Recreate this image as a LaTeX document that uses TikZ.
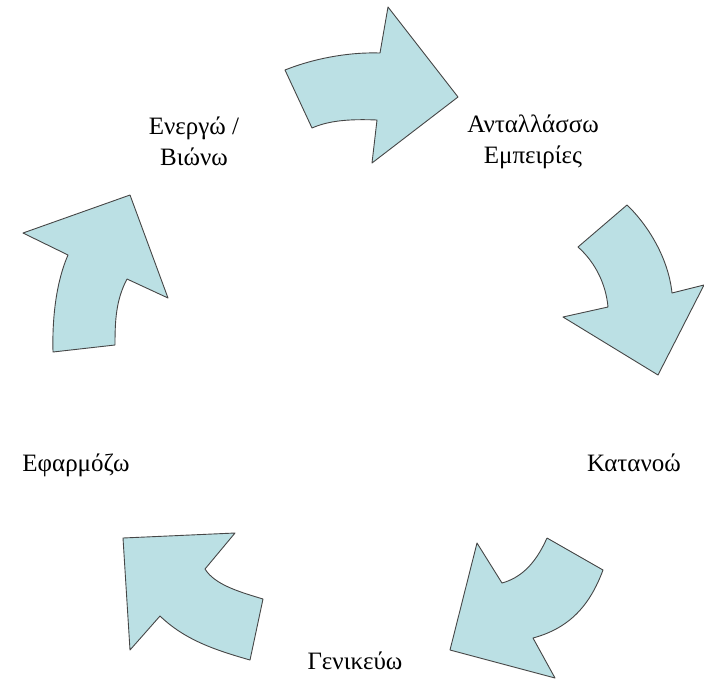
\documentclass[tikz,border=0pt]{standalone}
\usepackage{fontspec}
\setmainfont{Liberation Serif}
\definecolor{arrowfill}{RGB}{187,224,228}
\definecolor{arrowline}{RGB}{70,70,70}

\begin{document}
\begin{tikzpicture}[x=1pt,y=-1pt]
  \tikzset{cyclearrow/.style={draw=arrowline, fill=arrowfill, line width=0.9pt, line join=round}}
  \tikzset{steplabel/.style={align=center, font=\fontsize{25}{31}\selectfont, inner sep=0pt}}
  \useasboundingbox (0,0) rectangle (704,681);
  % the five arrows of the cycle
  \draw[cyclearrow] (285,70) .. controls (315,58) and (350,52) .. (380,53) -- (388,7) -- (458,97)
    -- (372,163) -- (377,120) .. controls (352,119) and (330,120) .. (312,128) -- cycle;
  \draw[cyclearrow] (627,205) .. controls (645,222) and (668,255) .. (672,293) -- (704,285) -- (658,375)
    -- (563,317) -- (608,307) .. controls (606,285) and (596,263) .. (578,247) -- cycle;
  \draw[cyclearrow] (547,538) -- (603,570) .. controls (590,605) and (570,628) .. (533,638) -- (555,678)
    -- (450,650) -- (477,543) -- (502,583) .. controls (520,578) and (535,565) .. (547,538);
  \draw[cyclearrow] (123,538) -- (235,533) -- (205,569) .. controls (215,585) and (240,592) .. (263,599)
    -- (250,660) .. controls (215,650) and (185,640) .. (160,616) -- (130,650) -- cycle;
  \draw[cyclearrow] (130,195) -- (168,298) -- (127,279) .. controls (116,300) and (115,320) .. (115,345)
    -- (53,352) .. controls (52,315) and (57,280) .. (68,255) -- (23,233) -- cycle;
  % the five steps
  \node[steplabel] (act) at (194,141) {Ενεργώ /\\Βιώνω};
  \node[steplabel] (share) at (533,142) {Ανταλλάσσω\\Εμπειρίες};
  \node[steplabel] (grasp) at (634,463) {Κατανοώ};
  \node[steplabel] (general) at (355,661) {Γενικεύω};
  \node[steplabel] (apply) at (76,465) {Εφαρμόζω};
\end{tikzpicture}
\end{document}
